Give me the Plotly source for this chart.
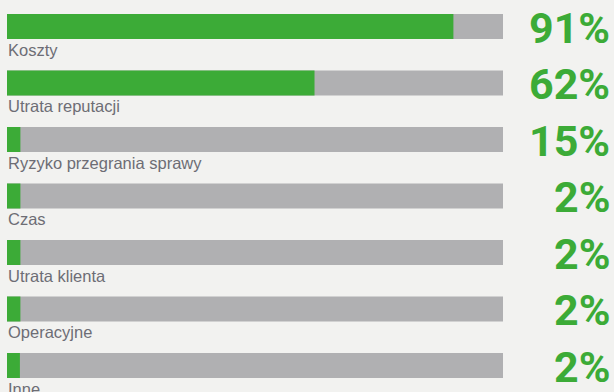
import plotly.graph_objects as go

categories = ["Koszty", "Utrata reputacji", "Ryzyko przegrania sprawy", "Czas",
              "Utrata klienta", "Operacyjne", "Inne"]
percent_labels = ["91%", "62%", "15%", "2%", "2%", "2%", "2%"]
bar_fill = [90, 62, 2.7, 2.7, 2.7, 2.7, 2.6]
track = [100] * len(categories)

GREEN = "#3cab37"
GRAY = "#b0b0b2"
BG = "#f2f2f0"
LABEL = "#6d6d75"

ypos = list(range(len(categories)))

fig = go.Figure()
fig.add_trace(go.Bar(x=track, y=ypos, orientation="h", marker=dict(color=GRAY, line=dict(width=0)),
                     width=0.4425, hoverinfo="skip"))
fig.add_trace(go.Bar(x=bar_fill, y=ypos, orientation="h", marker=dict(color=GREEN, line=dict(width=0)),
                     width=0.4425, hoverinfo="skip"))

for i, (cat, pl) in enumerate(zip(categories, percent_labels)):
    fig.add_annotation(x=0, y=i, xref="x", yref="y", text=cat, showarrow=False,
                       xanchor="left", yanchor="middle", yshift=-23, xshift=-1,
                       font=dict(family="Liberation Sans, Arial, sans-serif", size=16.5, color=LABEL))
    fig.add_annotation(x=612 / 614, y=i, xref="paper", yref="y", text=pl, showarrow=False,
                       xanchor="right", yanchor="middle", yshift=-1,
                       font=dict(family="Roboto, Arial, sans-serif", size=43, color=GREEN, weight="bold"))

fig.update_layout(
    width=614, height=392,
    margin=dict(l=0, r=0, t=0, b=0),
    paper_bgcolor=BG, plot_bgcolor=BG,
    barmode="overlay", showlegend=False,
    xaxis=dict(range=[-7 / 4.96, (614 - 7) / 4.96], visible=False, fixedrange=True),
    yaxis=dict(range=[(392 - 26.5) / 56.5, -26.5 / 56.5], visible=False, fixedrange=True),
)

fig.write_html("out.html")
